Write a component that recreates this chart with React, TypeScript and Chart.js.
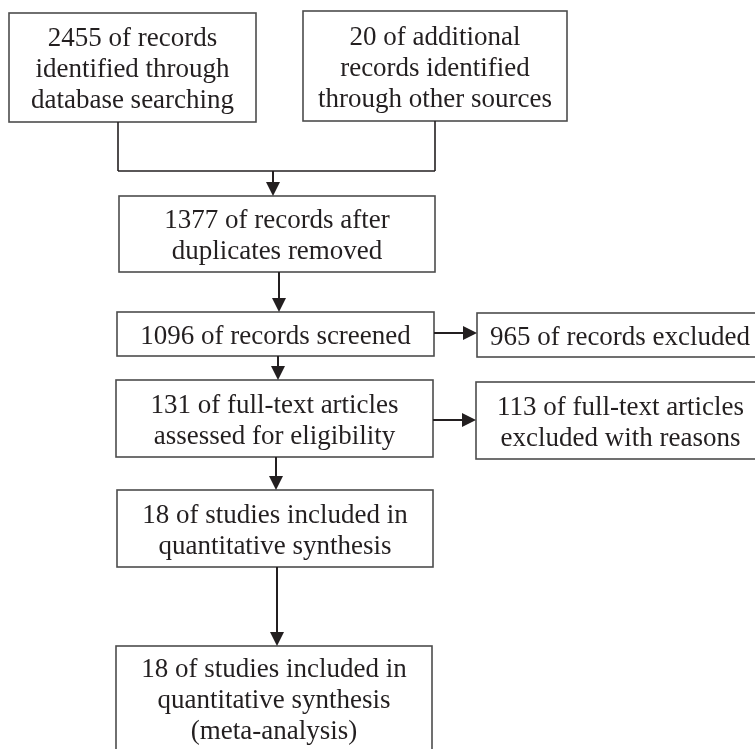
import React, { useEffect, useRef } from "react";
import { Chart, registerables } from "chart.js";

Chart.register(...registerables);

// Flow diagram content (chart units = page pixels, y grows downwards)
const boxText: string[][] = [
  ["2455 of records", "identified through", "database searching"],
  ["20 of additional", "records identified", "through other sources"],
  ["1377 of records after", "duplicates removed"],
  ["1096 of records screened"],
  ["965 of records excluded"],
  ["131 of full-text articles", "assessed for eligibility"],
  ["113 of full-text articles", "excluded with reasons"],
  ["18 of studies included in", "quantitative synthesis"],
  ["18 of studies included in", "quantitative synthesis", "(meta-analysis)"],
];
const boxLeft = [9, 303, 119, 117, 477, 116, 476, 117, 116];
const boxRight = [256, 567, 435, 434, 763, 433, 765, 433, 432];
const boxTop = [13, 11, 196, 312, 313, 380, 382, 490, 646];
const boxBottom = [122, 121, 272, 356, 357, 457, 459, 567, 751];

// plain connector segments [x1, y1, x2, y2]
const connectorX1 = [118, 435, 118];
const connectorY1 = [122, 121, 171];
const connectorX2 = [118, 435, 435];
const connectorY2 = [171, 171, 171];

// arrows [from -> to], head at "to"
const arrowX1 = [273, 279, 434, 278, 433, 276, 277];
const arrowY1 = [171, 272, 333, 356, 420, 457, 567];
const arrowX2 = [273, 279, 477, 278, 476, 276, 277];
const arrowY2 = [196, 312, 333, 380, 420, 490, 646];

const flowPlugin = {
  id: "flowPlugin",
  afterDatasetsDraw(chart: any) {
    const ctx = chart.ctx as CanvasRenderingContext2D;
    const xs = chart.scales.x;
    const ys = chart.scales.y;
    const px = (v: number) => xs.getPixelForValue(v);
    const py = (v: number) => ys.getPixelForValue(v);
    ctx.save();

    // boxes
    for (let i = 0; i < boxText.length; i++) {
      const l = px(boxLeft[i]);
      const r = px(boxRight[i]);
      const t = py(boxTop[i]);
      const b = py(boxBottom[i]);
      ctx.fillStyle = "#ffffff";
      ctx.fillRect(l, t, r - l, b - t);
      ctx.strokeStyle = "#4d4d4d";
      ctx.lineWidth = 1.6;
      ctx.strokeRect(l, t, r - l, b - t);
      const cx = (l + r) / 2;
      const cy = (t + b) / 2;
      const lines = boxText[i];
      ctx.fillStyle = "#231f20";
      ctx.font = '27px "Liberation Serif", "Times New Roman", serif';
      ctx.textAlign = "center";
      ctx.textBaseline = "alphabetic";
      const lh = 31;
      for (let k = 0; k < lines.length; k++) {
        const y = cy + 9.5 + (k - (lines.length - 1) / 2) * lh;
        ctx.fillText(lines[k], cx, y);
      }
    }

    // connectors
    ctx.strokeStyle = "#231f20";
    ctx.lineWidth = 1.6;
    for (let i = 0; i < connectorX1.length; i++) {
      ctx.beginPath();
      ctx.moveTo(px(connectorX1[i]), py(connectorY1[i]));
      ctx.lineTo(px(connectorX2[i]), py(connectorY2[i]));
      ctx.stroke();
    }

    // arrows
    const headLen = 14;
    const headHalf = 7;
    for (let i = 0; i < arrowX1.length; i++) {
      const x1 = px(arrowX1[i]);
      const y1 = py(arrowY1[i]);
      const x2 = px(arrowX2[i]);
      const y2 = py(arrowY2[i]);
      const ang = Math.atan2(y2 - y1, x2 - x1);
      const bx = x2 - Math.cos(ang) * headLen;
      const by = y2 - Math.sin(ang) * headLen;
      ctx.lineWidth = 2;
      ctx.strokeStyle = "#231f20";
      ctx.beginPath();
      ctx.moveTo(x1, y1);
      ctx.lineTo(bx, by);
      ctx.stroke();
      ctx.fillStyle = "#231f20";
      ctx.beginPath();
      ctx.moveTo(x2, y2);
      ctx.lineTo(bx - Math.sin(ang) * headHalf, by + Math.cos(ang) * headHalf);
      ctx.lineTo(bx + Math.sin(ang) * headHalf, by - Math.cos(ang) * headHalf);
      ctx.closePath();
      ctx.fill();
    }
    ctx.restore();
  },
};

export default function App() {
  const ref = useRef<HTMLCanvasElement | null>(null);
  useEffect(() => {
    if (!ref.current) return;
    const centers = boxText.map((_, i) => ({
      x: (boxLeft[i] + boxRight[i]) / 2,
      y: (boxTop[i] + boxBottom[i]) / 2,
    }));
    const chart = new Chart(ref.current, {
      type: "scatter",
      data: {
        datasets: [
          {
            label: "boxes",
            data: centers,
            pointRadius: 0,
            pointHoverRadius: 0,
          },
        ],
      },
      options: {
        animation: false,
        responsive: false,
        maintainAspectRatio: false,
        layout: { padding: 0 },
        plugins: {
          legend: { display: false },
          tooltip: { enabled: false },
        },
        events: [],
        scales: {
          x: { type: "linear", min: 0, max: 755, display: false },
          y: { type: "linear", min: 0, max: 749, reverse: true, display: false },
        },
      },
      plugins: [flowPlugin],
    });
    return () => chart.destroy();
  }, []);
  return (
    <div
      style={{
        position: "absolute",
        left: 0,
        top: 0,
        width: 755,
        height: 749,
        background: "#ffffff",
        overflow: "hidden",
      }}
    >
      <canvas ref={ref} width={755} height={749} style={{ display: "block" }} />
    </div>
  );
}
